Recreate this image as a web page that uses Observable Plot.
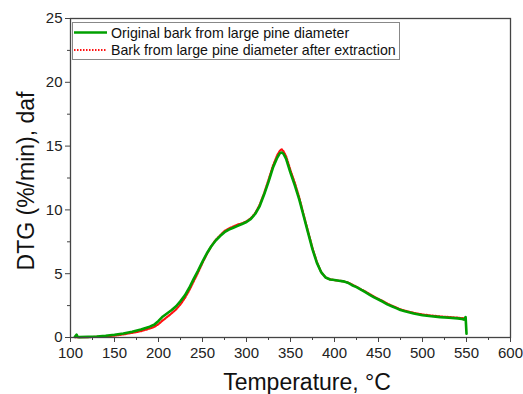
<!DOCTYPE html>
<html><head><meta charset="utf-8">
<script src="https://cdn.jsdelivr.net/npm/d3@7"></script>
<script src="https://cdn.jsdelivr.net/npm/@observablehq/plot@0.6"></script>
<style>body{margin:0;background:#fff;} #chart{width:523px;height:394px;}</style>
</head><body><div id="chart"></div>
<script>
const seriesNames = ["Original bark from large pine diameter", "Bark from large pine diameter after extraction"];

const tempsOriginal = [105,107,108,110,120,130,140,150,160,170,180,190,195,200,205,210,215,220,225,230,235,240,245,250,255,260,265,270,275,280,285,290,295,300,305,310,315,320,325,330,335,338,340,342,345,350,355,360,365,370,375,380,385,390,395,400,405,410,415,420,425,430,435,440,445,450,455,460,465,470,475,480,490,500,510,520,530,540,545,547,549,550];
const valuesOriginal = [0.05,0.22,0.05,0.03,0.05,0.08,0.14,0.22,0.32,0.45,0.62,0.85,1.0,1.3,1.65,1.9,2.15,2.45,2.85,3.3,3.9,4.6,5.25,5.95,6.6,7.15,7.6,7.95,8.25,8.45,8.6,8.75,8.9,9.05,9.3,9.7,10.3,11.2,12.2,13.3,14.1,14.45,14.5,14.4,14.0,12.9,11.9,10.8,9.5,8.2,6.9,5.85,5.1,4.7,4.55,4.5,4.45,4.4,4.3,4.1,3.95,3.75,3.55,3.35,3.15,2.98,2.8,2.6,2.45,2.3,2.15,2.05,1.88,1.75,1.67,1.6,1.55,1.5,1.45,1.4,1.6,0.3];

const tempsExtracted = [105,110,120,130,140,150,160,170,180,190,195,200,205,210,215,220,225,230,235,240,245,250,255,260,265,270,275,280,285,290,295,300,305,310,315,320,325,330,335,338,340,342,345,350,355,360,365,370,375,380,385,390,395,400,405,410,415,420,425,430,435,440,445,450,455,460,465,470,475,480,490,500,510,520,530,540,545,548];
const valuesExtracted = [0.02,0.02,0.03,0.05,0.09,0.15,0.24,0.36,0.5,0.7,0.82,1.05,1.35,1.62,1.9,2.2,2.6,3.1,3.7,4.4,5.1,5.85,6.55,7.15,7.65,8.0,8.35,8.55,8.7,8.85,8.95,9.1,9.35,9.75,10.4,11.3,12.35,13.45,14.3,14.65,14.75,14.6,14.2,13.1,12.1,10.95,9.6,8.3,7.0,5.9,5.1,4.7,4.55,4.5,4.45,4.4,4.32,4.15,3.98,3.78,3.6,3.4,3.2,3.02,2.85,2.66,2.5,2.35,2.2,2.1,1.93,1.8,1.72,1.65,1.6,1.55,1.52,1.5];

const xTicks = [100,150,200,250,300,350,400,450,500,550,600];
const xMinor = [125,175,225,275,325,375,425,475,525,575];
const yTicks = [0,5,10,15,20,25];
const yMinor = [2.5,7.5,12.5,17.5,22.5];

const green = "#00a000";
const red = "#ff1010";
const axisColor = "#444";

const orig = tempsOriginal.map((t,i)=>({t, v: valuesOriginal[i]}));
const extr = tempsExtracted.map((t,i)=>({t, v: valuesExtracted[i]}));

const plot = Plot.plot({
  width: 523, height: 394,
  marginLeft: 70, marginRight: 13, marginTop: 18, marginBottom: 57,
  x: {domain: [100, 600]},
  y: {domain: [0, 25]},
  style: {fontFamily: "'Liberation Sans', Arial, sans-serif", fontSize: "15px", color: "#222", background: "#fff"},
  marks: [
    Plot.axisX({ticks: xTicks, tickSize: 5, tickPadding: 5, label: null, stroke: axisColor, fontSize: 15, fill: "#222"}),
    Plot.axisX({ticks: xMinor, tickSize: 3, text: null, label: null, stroke: axisColor}),
    Plot.axisY({ticks: yTicks, tickSize: 5, tickPadding: 3, label: null, stroke: axisColor, fontSize: 15, fill: "#222"}),
    Plot.axisY({ticks: yMinor, tickSize: 3, text: null, label: null, stroke: axisColor}),
    Plot.line(extr, {x: "t", y: "v", stroke: red, strokeWidth: 2.2, strokeDasharray: "1.5,1.5"}),
    Plot.line(orig, {x: "t", y: "v", stroke: green, strokeWidth: 2.6, strokeLinejoin: "round"}),
    Plot.frame({stroke: axisColor, strokeWidth: 1.3})
  ]
});
document.getElementById("chart").appendChild(plot);

const svg = d3.select(plot);
// axis titles
svg.append("text").attr("x", 307).attr("y", 390).attr("text-anchor", "middle")
  .attr("font-family", "'Liberation Sans', Arial, sans-serif").attr("font-size", 23).attr("fill", "#111")
  .text("Temperature, °C");
svg.append("text").attr("transform", "translate(34,181) rotate(-90)").attr("text-anchor", "middle")
  .attr("font-family", "'Liberation Sans', Arial, sans-serif").attr("font-size", 23).attr("fill", "#111")
  .text("DTG (%/min), daf");

// legend
const lg = svg.append("g").attr("font-family", "'Liberation Sans', Arial, sans-serif").attr("font-size", 14.2).attr("fill", "#111").attr("text-anchor", "start");
lg.append("rect").attr("x", 72.5).attr("y", 22.5).attr("width", 327).attr("height", 37).attr("fill", "#fff").attr("stroke", "#888").attr("stroke-width", 1);
lg.append("line").attr("x1", 74).attr("x2", 107).attr("y1", 32.5).attr("y2", 32.5).attr("stroke", green).attr("stroke-width", 2.4);
lg.append("line").attr("x1", 74).attr("x2", 107).attr("y1", 50).attr("y2", 50).attr("stroke", red).attr("stroke-width", 2).attr("stroke-dasharray", "1.5,1.5");
lg.append("text").attr("x", 111).attr("y", 37.8).attr("text-anchor", "start").text(seriesNames[0]);
lg.append("text").attr("x", 111).attr("y", 55).attr("text-anchor", "start").text(seriesNames[1]);
</script>
</body></html>
